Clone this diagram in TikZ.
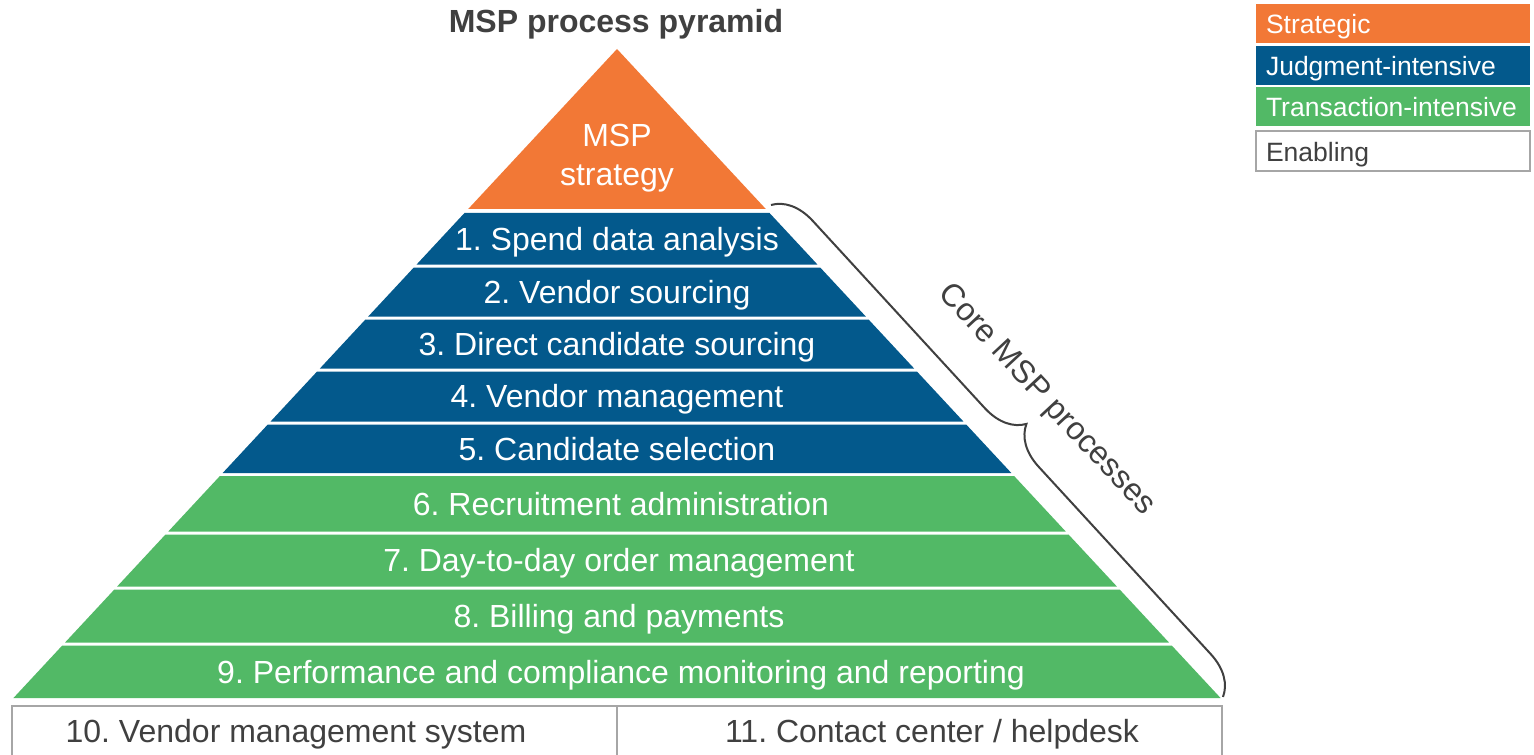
\documentclass[tikz,border=0pt]{standalone}
\usepackage{fontspec}
\setmainfont{Liberation Sans}
\usetikzlibrary{decorations.pathreplacing}
\frenchspacing

\definecolor{strat}{HTML}{F27836}
\definecolor{judg}{HTML}{03598C}
\definecolor{trans}{HTML}{52B966}
\definecolor{ink}{HTML}{404040}
\definecolor{rim}{HTML}{A6A6A6}

\tikzset{
  layer/.style={text=white, font=\fontsize{16}{19}\selectfont, anchor=base},
  plain/.style={text=ink, font=\fontsize{16}{19}\selectfont, anchor=base},
  key/.style={text=white, font=\fontsize{13.25}{16}\selectfont, minimum width=137pt, minimum height=19.5pt,
    inner sep=0pt, text width=127pt, align=left, text height=12.5pt, text depth=2pt},
}

\begin{document}
\begin{tikzpicture}[x=0.5pt, y=-0.5pt]
\useasboundingbox[fill=white] (0,0) rectangle (1534,754);

% pyramid layers, apex at (617,49)
\foreach \ya/\yb/\col in {49/209/strat, 213/264.5/judg, 267.5/316.5/judg, 319.5/368.5/judg,
    371.5/421.5/judg, 424.5/473/judg, 476/531.5/trans, 534.5/586.5/trans, 589.5/642.5/trans, 645.5/698/trans}
  \fill[\col] ({617-0.93*(\ya-49)},\ya) -- ({617+0.93*(\ya-49)},\ya)
    -- ({617+0.93*(\yb-49)},\yb) -- ({617-0.93*(\yb-49)},\yb) -- cycle;

\node[font=\bfseries\fontsize{16}{19}\selectfont, text=ink, anchor=base] (title) at (616,33) {MSP process pyramid};

\node[layer] (l0a) at (617,147) {MSP};
\node[layer] (l0b) at (617,185) {strategy};
\node[layer] (l1) at (617,250) {1. Spend data analysis};
\node[layer] (l2) at (617,303) {2. Vendor sourcing};
\node[layer] (l3) at (617,355) {3. Direct candidate sourcing};
\node[layer] (l4) at (617,407.5) {4. Vendor management};
\node[layer] (l5) at (617,460) {5. Candidate selection};
\node[layer] (l6) at (621,515) {6. Recruitment administration};
\node[layer] (l7) at (619,571.5) {7. Day-to-day order management};
\node[layer] (l8) at (619,627) {8. Billing and payments};
\node[layer] (l9) at (621,683) {9. Performance and compliance monitoring and reporting};

% enabling processes below the pyramid
\draw[rim, line width=1pt] (12,706) rectangle (1222,770);
\draw[rim, line width=1pt] (617,706) -- (617,770);
\node[plain] (l10) at (296,742) {10. Vendor management system};
\node[plain] (l11) at (932,742) {11. Contact center / helpdesk};

% brace along the right flank
\coordinate (bs) at (771,205);
\coordinate (be) at (1223,697);
\draw[ink, line width=1pt, decorate, decoration={brace, amplitude=20pt}] (bs) -- (be);
\node[plain, anchor=center, rotate=-47.1] (core) at (1046,400) {Core MSP processes};

% legend
\node[key, fill=strat] (k1) at (1393,23.5) {Strategic};
\node[key, fill=judg] (k2) at (1393,65.5) {Judgment-intensive};
\node[key, fill=trans] (k3) at (1393,106.5) {Transaction-intensive};
\node[key, text=ink, draw=rim, line width=1pt, minimum height=20pt] (k4) at (1393,151) {Enabling};
\end{tikzpicture}
\end{document}
